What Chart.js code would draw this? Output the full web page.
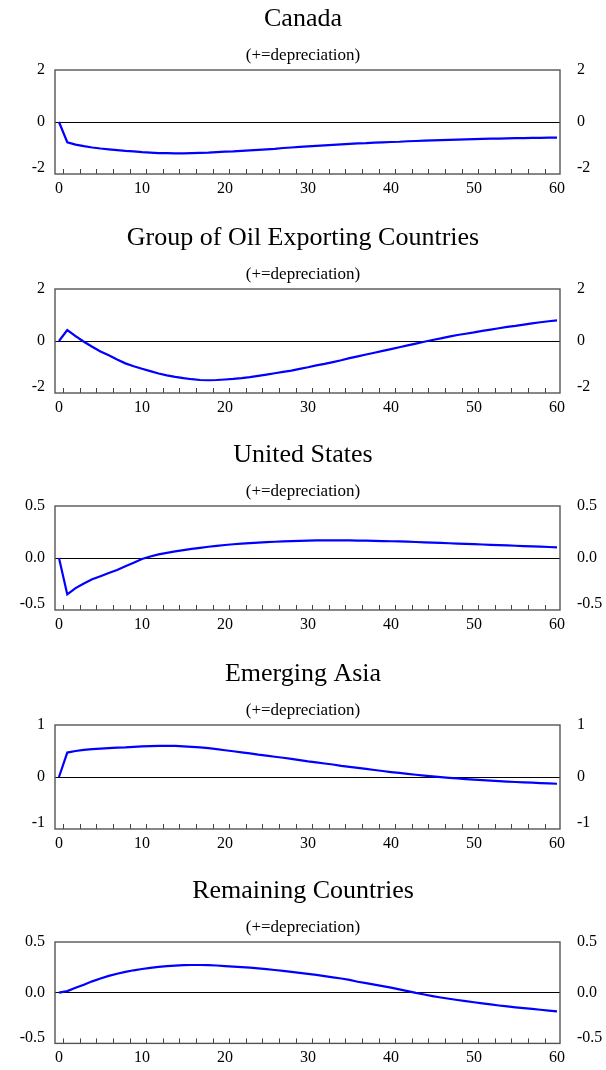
<!DOCTYPE html>
<html>
<head>
<meta charset="utf-8">
<script src="https://cdn.jsdelivr.net/npm/chart.js@4"></script>
<style>
  html, body { margin: 0; padding: 0; background: #fff; overflow: hidden; }
  canvas { position: absolute; left: 0; }
</style>
</head>
<body>
<script>
const horizon = Array.from({ length: 61 }, (_, i) => i);
const xTickLabels = [0, 10, 20, 30, 40, 50, 60];
const minorTicks = Array.from({ length: 30 }, (_, i) => 0.5 + 2 * i);

const titles = [
  "Canada",
  "Group of Oil Exporting Countries",
  "United States",
  "Emerging Asia",
  "Remaining Countries",
];
const subtitle = "(+=depreciation)";

const canada = [
  0, -0.78, -0.87, -0.93, -0.98, -1.02, -1.05, -1.08, -1.11, -1.13,
  -1.16, -1.18, -1.20, -1.20, -1.21, -1.21, -1.20, -1.19, -1.18, -1.16,
  -1.14, -1.13, -1.11, -1.09, -1.07, -1.05, -1.03, -1.00, -0.98, -0.96,
  -0.94, -0.92, -0.90, -0.88, -0.86, -0.84, -0.82, -0.81, -0.79, -0.78,
  -0.77, -0.76, -0.74, -0.73, -0.72, -0.71, -0.70, -0.69, -0.68, -0.67,
  -0.66, -0.65, -0.64, -0.64, -0.63, -0.62, -0.62, -0.61, -0.61, -0.60,
  -0.60,
];
const oilExporters = [
  0, 0.42, 0.19, -0.03, -0.22, -0.40, -0.55, -0.71, -0.86, -0.97,
  -1.07, -1.16, -1.25, -1.32, -1.38, -1.43, -1.47, -1.50, -1.51, -1.50,
  -1.48, -1.46, -1.43, -1.39, -1.34, -1.29, -1.24, -1.19, -1.14, -1.07,
  -1.01, -0.94, -0.88, -0.81, -0.74, -0.66, -0.59, -0.52, -0.45, -0.38,
  -0.31, -0.24, -0.17, -0.10, -0.03, 0.04, 0.10, 0.17, 0.23, 0.28,
  0.33, 0.39, 0.44, 0.49, 0.54, 0.58, 0.63, 0.68, 0.72, 0.76,
  0.79,
];
const unitedStates = [
  0, -0.35, -0.29, -0.245, -0.205, -0.175, -0.145, -0.115, -0.08, -0.045,
  -0.01, 0.015, 0.035, 0.05, 0.063, 0.075, 0.087, 0.098, 0.108, 0.116,
  0.125, 0.132, 0.138, 0.143, 0.148, 0.152, 0.156, 0.16, 0.163, 0.165,
  0.167, 0.169, 0.17, 0.17, 0.17, 0.169, 0.168, 0.167, 0.165, 0.163,
  0.161, 0.159, 0.157, 0.154, 0.151, 0.148, 0.145, 0.142, 0.139, 0.136,
  0.133, 0.13, 0.127, 0.124, 0.121, 0.118, 0.115, 0.112, 0.109, 0.106,
  0.103,
];
const emergingAsia = [
  0, 0.47, 0.50, 0.52, 0.535, 0.545, 0.555, 0.565, 0.57, 0.58,
  0.59, 0.595, 0.60, 0.60, 0.598, 0.59, 0.58, 0.57, 0.555, 0.535,
  0.515, 0.495, 0.475, 0.455, 0.43, 0.41, 0.39, 0.37, 0.35, 0.325,
  0.30, 0.28, 0.26, 0.24, 0.215, 0.195, 0.175, 0.155, 0.135, 0.115,
  0.095, 0.078, 0.06, 0.043, 0.027, 0.012, -0.002, -0.015, -0.028, -0.04,
  -0.05, -0.06, -0.07, -0.08, -0.088, -0.096, -0.104, -0.11, -0.117, -0.124,
  -0.13,
];
const remaining = [
  0, 0.016, 0.048, 0.079, 0.112, 0.14, 0.166, 0.187, 0.205, 0.221,
  0.234, 0.245, 0.254, 0.262, 0.267, 0.271, 0.273, 0.273, 0.272, 0.268,
  0.263, 0.258, 0.253, 0.247, 0.24, 0.232, 0.224, 0.215, 0.206, 0.196,
  0.186, 0.175, 0.164, 0.152, 0.14, 0.127, 0.108, 0.094, 0.08, 0.065,
  0.05, 0.033, 0.016, -0.002, -0.018, -0.033, -0.047, -0.06, -0.072, -0.083,
  -0.094, -0.105, -0.116, -0.126, -0.135, -0.144, -0.152, -0.16, -0.168, -0.176,
  -0.185,
];

const series = [canada, oilExporters, unitedStates, emergingAsia, remaining];
const yTicks = [
  [-2, 0, 2],
  [-2, 0, 2],
  [-0.5, 0, 0.5],
  [-1, 0, 1],
  [-0.5, 0, 0.5],
];
const yDecimals = [0, 0, 1, 0, 1];

const serif = "'Liberation Serif', 'Times New Roman', serif";
const panelTops = [0, 219, 436, 655, 872];

// frame box + small inward ticks on the bottom edge
const framePlugin = {
  id: "frame",
  beforeDraw(chart) {
    // lift the bottom value label a little, like the original
    ["y", "yr"].forEach((id) => {
      const s = chart.scales[id];
      s.getLabelItems().forEach((item, k) => {
        if (k === 0 && !item._lifted) {
          item.options.translation[1] -= 6;
          item._lifted = true;
        }
      });
    });
  },
  afterDatasetsDraw(chart) {
    const { ctx, chartArea: a } = chart;
    const x = chart.scales.x;
    ctx.save();
    ctx.strokeStyle = "#444";
    ctx.lineWidth = 1;
    minorTicks.forEach((v) => {
      const px = Math.round(x.getPixelForValue(v)) + 0.5;
      ctx.beginPath();
      ctx.moveTo(px, a.bottom);
      ctx.lineTo(px, a.bottom - 5);
      ctx.stroke();
    });
    ctx.strokeStyle = "#555";
    ctx.lineWidth = 1.4;
    ctx.strokeRect(a.left, a.top, a.width, a.height);
    ctx.restore();
  },
};

function yAxis(i, side) {
  const lim = yTicks[i][2];
  return {
    position: side,
    min: -lim,
    max: lim,
    border: { display: false },
    grid: {
      display: side === "left",
      drawTicks: false,
      color: (c) => (c.tick && c.tick.value === 0 ? "#000" : "rgba(0,0,0,0)"),
      lineWidth: 1,
    },
    afterBuildTicks: (s) => { s.ticks = yTicks[i].map((v) => ({ value: v })); },
    afterFit: (s) => { s.width = side === "left" ? 55 : 46; },
    ticks: {
      padding: side === "left" ? 10 : 17,
      color: "#000",
      font: { family: serif, size: 16 },
      callback: (v) => Number(v).toFixed(yDecimals[i]),
    },
  };
}

titles.forEach((title, i) => {
  const h = i < 4 ? 218 : 198;
  const canvas = document.createElement("canvas");
  canvas.width = 606;
  canvas.height = h;
  canvas.style.top = panelTops[i] + "px";
  document.body.appendChild(canvas);

  new Chart(canvas, {
    type: "line",
    data: {
      datasets: [
        {
          data: series[i].map((v, k) => ({ x: horizon[k], y: v })),
          borderColor: "#0000ff",
          borderWidth: 2.2,
          pointRadius: 0,
          tension: 0,
          yAxisID: "y",
        },
      ],
    },
    options: {
      responsive: false,
      animation: false,
      devicePixelRatio: 1,
      layout: { padding: 0 },
      plugins: {
        legend: { display: false },
        tooltip: { enabled: false },
        title: {
          display: true,
          text: title,
          color: "#000",
          font: { family: serif, size: 26, weight: "normal" },
          padding: { top: 4, bottom: 10 },
        },
        subtitle: {
          display: true,
          text: subtitle,
          color: "#000",
          font: { family: serif, size: 17, weight: "normal" },
          padding: { top: 0, bottom: 4.4 },
        },
      },
      scales: {
        x: {
          type: "linear",
          min: -0.48,
          max: 60.36,
          border: { display: false },
          grid: { display: false, drawTicks: false },
          afterBuildTicks: (s) => { s.ticks = xTickLabels.map((v) => ({ value: v })); },
          afterFit: (s) => { s.height = h - 174; },
          ticks: {
            padding: 5,
            maxRotation: 0,
            autoSkip: false,
            color: "#000",
            font: { family: serif, size: 16 },
          },
        },
        y: yAxis(i, "left"),
        yr: yAxis(i, "right"),
      },
    },
    plugins: [framePlugin],
  });
});
</script>
</body>
</html>
